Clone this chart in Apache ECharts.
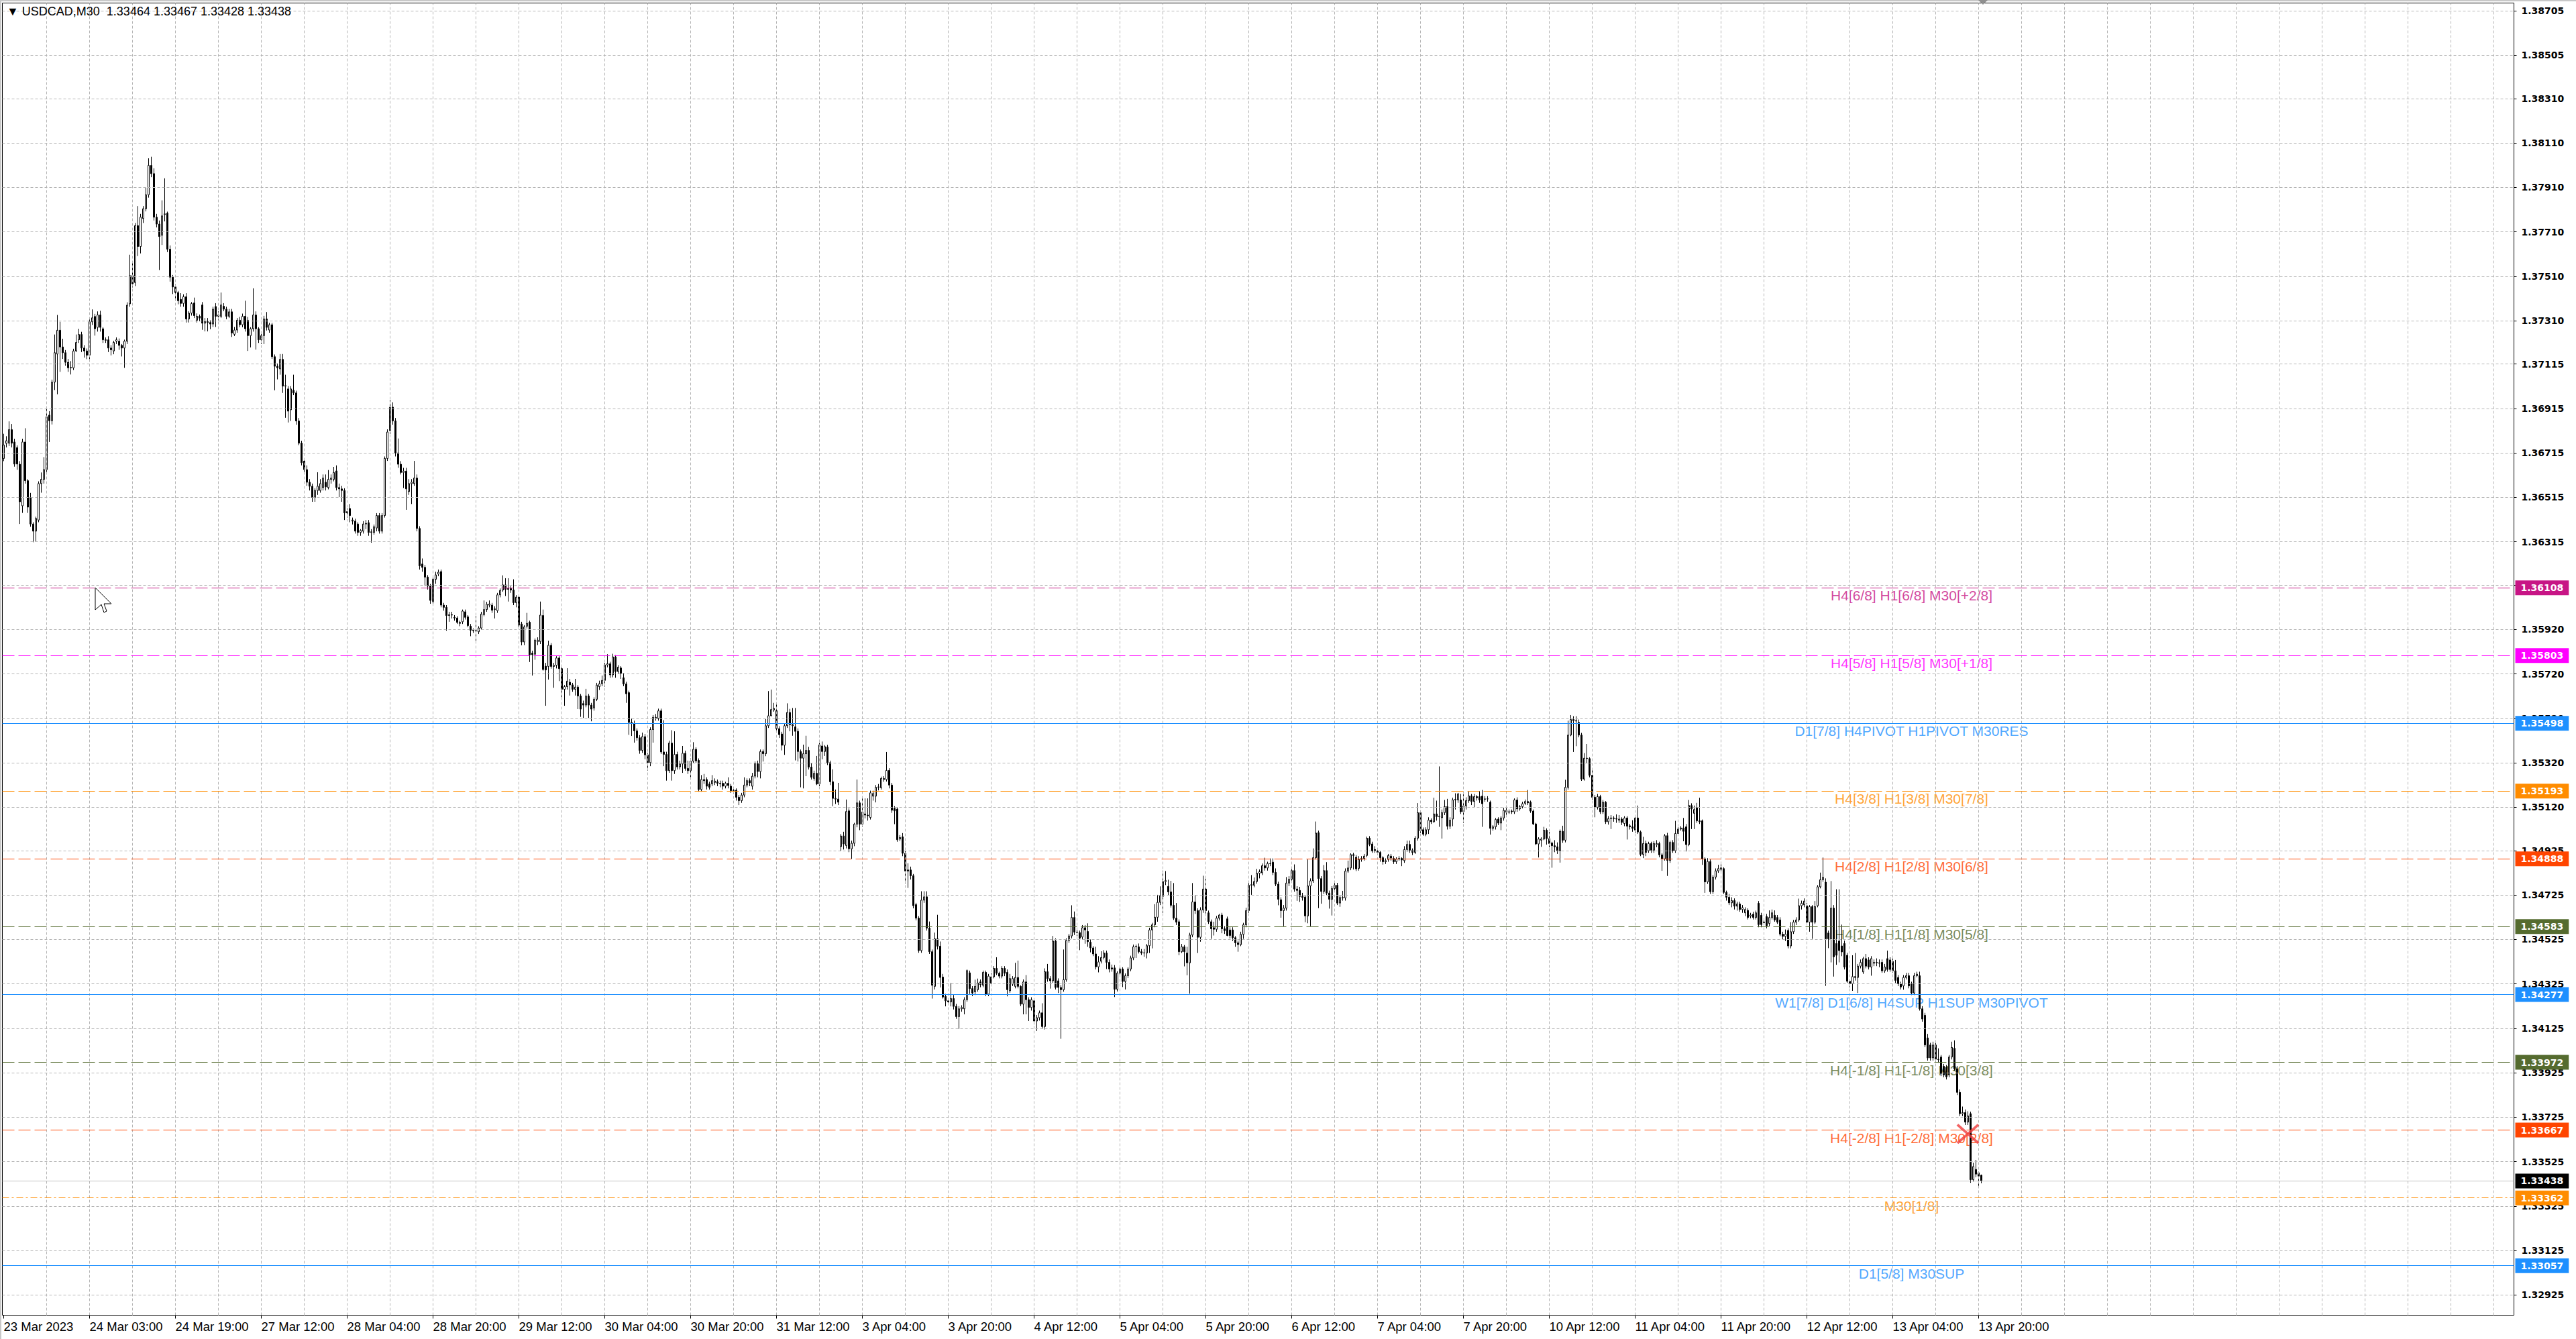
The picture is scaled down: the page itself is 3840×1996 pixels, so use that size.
<!DOCTYPE html>
<html><head><meta charset="utf-8">
<script src="https://cdn.jsdelivr.net/npm/echarts@6/dist/echarts.min.js"></script>
<style>html,body{margin:0;padding:0;background:#fff;}#chart{width:3840px;height:1996px;}</style>
</head><body><div id="chart"></div>
<script>
// ---------------- DATA ----------------
const symbolName = 'USDCAD,M30';
const timeLabels = ['23 Mar 2023','24 Mar 03:00','24 Mar 19:00','27 Mar 12:00','28 Mar 04:00','28 Mar 20:00','29 Mar 12:00','30 Mar 04:00','30 Mar 20:00','31 Mar 12:00','3 Apr 04:00','3 Apr 20:00','4 Apr 12:00','5 Apr 04:00','5 Apr 20:00','6 Apr 12:00','7 Apr 04:00','7 Apr 20:00','10 Apr 12:00','11 Apr 04:00','11 Apr 20:00','12 Apr 12:00','13 Apr 04:00','13 Apr 20:00'];
const priceTicks = [1.38705,1.38505,1.38310,1.38110,1.37910,1.37710,1.37510,1.37310,1.37115,1.36915,1.36715,1.36515,1.36315,1.36120,1.35920,1.35720,1.35520,1.35320,1.35120,1.34925,1.34725,1.34525,1.34325,1.34125,1.33925,1.33725,1.33525,1.33325,1.33125,1.32925];
const levelPrices = [1.36108,1.35803,1.35498,1.35193,1.34888,1.34583,1.34277,1.33972,1.33667,1.33362,1.33057];
const levelNames = ['H4[6/8] H1[6/8] M30[+2/8]','H4[5/8] H1[5/8] M30[+1/8]','D1[7/8] H4PIVOT H1PIVOT M30RES','H4[3/8] H1[3/8] M30[7/8]','H4[2/8] H1[2/8] M30[6/8]','H4[1/8] H1[1/8] M30[5/8]','W1[7/8] D1[6/8] H4SUP H1SUP M30PIVOT','H4[-1/8] H1[-1/8] M30[3/8]','H4[-2/8] H1[-2/8] M30[2/8]','M30[1/8]','D1[5/8] M30SUP'];
const closedOrder = [[732, 1.33650]];
// each bar: [open, close, low, high]
const bars = [
[1.36690,1.36751,1.36678,1.36801],[1.36758,1.36770,1.36740,1.36790],[1.36759,1.36820,1.36746,1.36857],[1.36820,1.36759,1.36740,1.36845],[1.36764,1.36665,1.36653,1.36779],
[1.36739,1.36665,1.36639,1.36749],[1.36664,1.36495,1.36395,1.36678],[1.36477,1.36764,1.36445,1.36779],[1.36764,1.36590,1.36577,1.36826],[1.36590,1.36471,1.36445,1.36597],
[1.36514,1.36395,1.36383,1.36535],[1.36395,1.36363,1.36313,1.36403],[1.36363,1.36420,1.36316,1.36428],[1.36413,1.36577,1.36403,1.36587],[1.36577,1.36596,1.36536,1.36627],
[1.36596,1.36640,1.36577,1.36696],[1.36640,1.36878,1.36628,1.36915],[1.36885,1.36860,1.36764,1.36903],[1.36860,1.37034,1.36843,1.37045],[1.37034,1.37166,1.36998,1.37248],
[1.37160,1.37267,1.36979,1.37336],[1.37267,1.37192,1.37080,1.37305],[1.37192,1.37166,1.37138,1.37229],[1.37166,1.37123,1.37108,1.37178],[1.37123,1.37098,1.37080,1.37138],
[1.37098,1.37100,1.37068,1.37128],[1.37098,1.37174,1.37088,1.37184],[1.37174,1.37212,1.37169,1.37248],[1.37224,1.37248,1.37210,1.37274],[1.37248,1.37187,1.37169,1.37260],
[1.37187,1.37174,1.37144,1.37200],[1.37174,1.37155,1.37137,1.37185],[1.37155,1.37305,1.37137,1.37321],[1.37305,1.37323,1.37291,1.37361],[1.37329,1.37274,1.37243,1.37341],
[1.37280,1.37336,1.37261,1.37352],[1.37336,1.37280,1.37261,1.37355],[1.37274,1.37224,1.37210,1.37281],[1.37224,1.37222,1.37210,1.37235],[1.37224,1.37187,1.37169,1.37240],
[1.37187,1.37179,1.37154,1.37200],[1.37174,1.37212,1.37159,1.37220],[1.37218,1.37224,1.37205,1.37235],[1.37218,1.37199,1.37179,1.37230],[1.37199,1.37187,1.37149,1.37205],
[1.37187,1.37218,1.37098,1.37225],[1.37218,1.37380,1.37205,1.37393],[1.37386,1.37513,1.37373,1.37607],[1.37513,1.37476,1.37460,1.37569],[1.37482,1.37738,1.37466,1.37750],
[1.37738,1.37644,1.37601,1.37826],[1.37644,1.37776,1.37613,1.37791],[1.37770,1.37814,1.37750,1.37826],[1.37814,1.37877,1.37802,1.37909],[1.37877,1.38009,1.37864,1.38041],
[1.38009,1.37972,1.37956,1.38048],[1.37972,1.37776,1.37761,1.37996],[1.37776,1.37745,1.37730,1.37791],[1.37745,1.37689,1.37538,1.37761],[1.37695,1.37782,1.37651,1.37852],
[1.37788,1.37791,1.37757,1.37951],[1.37794,1.37632,1.37619,1.37801],[1.37632,1.37506,1.37486,1.37649],[1.37506,1.37462,1.37430,1.37516],[1.37462,1.37437,1.37400,1.37475],
[1.37437,1.37400,1.37384,1.37444],[1.37406,1.37388,1.37373,1.37434],[1.37388,1.37418,1.37373,1.37429],[1.37418,1.37318,1.37302,1.37434],[1.37318,1.37344,1.37302,1.37353],
[1.37344,1.37387,1.37333,1.37394],[1.37390,1.37333,1.37322,1.37414],[1.37312,1.37330,1.37302,1.37343],[1.37330,1.37322,1.37307,1.37338],[1.37381,1.37299,1.37269,1.37394],
[1.37299,1.37306,1.37262,1.37322],[1.37306,1.37302,1.37262,1.37322],[1.37302,1.37295,1.37272,1.37312],[1.37295,1.37362,1.37282,1.37373],[1.37374,1.37330,1.37282,1.37389],
[1.37330,1.37336,1.37312,1.37352],[1.37330,1.37381,1.37322,1.37437],[1.37375,1.37362,1.37353,1.37389],[1.37362,1.37330,1.37317,1.37373],[1.37330,1.37350,1.37322,1.37363],
[1.37350,1.37255,1.37237,1.37363],[1.37249,1.37268,1.37241,1.37282],[1.37268,1.37312,1.37256,1.37322],[1.37312,1.37292,1.37281,1.37327],[1.37292,1.37330,1.37281,1.37342],
[1.37330,1.37274,1.37261,1.37400],[1.37312,1.37243,1.37174,1.37327],[1.37243,1.37274,1.37190,1.37281],[1.37274,1.37336,1.37261,1.37456],[1.37336,1.37274,1.37180,1.37352],
[1.37274,1.37224,1.37210,1.37281],[1.37224,1.37243,1.37205,1.37251],[1.37243,1.37318,1.37205,1.37332],[1.37318,1.37280,1.37266,1.37349],[1.37268,1.37292,1.37256,1.37301],
[1.37292,1.37148,1.37138,1.37301],[1.37148,1.37105,1.36997,1.37158],[1.37105,1.37098,1.37046,1.37118],[1.37093,1.37136,1.37067,1.37160],[1.37136,1.37016,1.36985,1.37160],
[1.37016,1.37018,1.36873,1.37067],[1.37003,1.36903,1.36852,1.37016],[1.36909,1.37003,1.36859,1.37016],[1.36997,1.36985,1.36975,1.37067],[1.36985,1.36859,1.36842,1.36995],
[1.36859,1.36759,1.36750,1.36872],[1.36759,1.36671,1.36659,1.36770],[1.36678,1.36640,1.36628,1.36689],[1.36640,1.36583,1.36567,1.36659],[1.36583,1.36565,1.36546,1.36597],
[1.36565,1.36515,1.36495,1.36577],[1.36515,1.36546,1.36495,1.36556],[1.36546,1.36565,1.36526,1.36628],[1.36546,1.36577,1.36536,1.36597],[1.36559,1.36602,1.36546,1.36618],
[1.36583,1.36562,1.36546,1.36618],[1.36559,1.36596,1.36551,1.36638],[1.36596,1.36602,1.36577,1.36618],[1.36596,1.36627,1.36587,1.36652],[1.36634,1.36559,1.36546,1.36659],
[1.36559,1.36553,1.36516,1.36577],[1.36553,1.36546,1.36495,1.36567],[1.36546,1.36445,1.36413,1.36556],[1.36445,1.36451,1.36424,1.36465],[1.36465,1.36433,1.36403,1.36485],
[1.36413,1.36408,1.36393,1.36424],[1.36408,1.36363,1.36352,1.36419],[1.36395,1.36357,1.36342,1.36403],[1.36357,1.36366,1.36342,1.36372],[1.36363,1.36395,1.36352,1.36408],
[1.36395,1.36398,1.36372,1.36413],[1.36401,1.36357,1.36342,1.36413],[1.36357,1.36360,1.36311,1.36372],[1.36357,1.36383,1.36347,1.36393],[1.36377,1.36433,1.36362,1.36444],
[1.36433,1.36363,1.36352,1.36444],[1.36363,1.36433,1.36352,1.36444],[1.36433,1.36690,1.36424,1.36699],[1.36690,1.36809,1.36679,1.36821],[1.36815,1.36921,1.36801,1.36953],
[1.36921,1.36859,1.36842,1.36943],[1.36859,1.36715,1.36699,1.36872],[1.36715,1.36664,1.36648,1.36780],[1.36664,1.36627,1.36618,1.36678],[1.36627,1.36633,1.36557,1.36648],
[1.36633,1.36553,1.36459,1.36648],[1.36541,1.36577,1.36526,1.36597],[1.36577,1.36583,1.36485,1.36597],[1.36577,1.36602,1.36567,1.36679],[1.36602,1.36375,1.36362,1.36618],
[1.36375,1.36207,1.36190,1.36385],[1.36215,1.36200,1.36180,1.36240],[1.36200,1.36156,1.36116,1.36210],[1.36156,1.36116,1.36100,1.36165],[1.36116,1.36051,1.36036,1.36125],
[1.36046,1.36146,1.36030,1.36160],[1.36146,1.36166,1.36126,1.36180],[1.36170,1.36178,1.36160,1.36190],[1.36181,1.36030,1.36020,1.36190],[1.36030,1.36020,1.36005,1.36040],
[1.36020,1.35983,1.35915,1.36030],[1.35983,1.35987,1.35955,1.36000],[1.35987,1.35985,1.35970,1.36000],[1.35975,1.35972,1.35960,1.35985],[1.35972,1.35952,1.35945,1.35980],
[1.35952,1.35948,1.35935,1.35960],[1.35955,1.36003,1.35945,1.36010],[1.36000,1.35975,1.35965,1.36010],[1.35977,1.35938,1.35930,1.35985],[1.35935,1.35917,1.35890,1.35945],
[1.35917,1.35915,1.35905,1.35925],[1.35915,1.35914,1.35869,1.35980],[1.35910,1.35927,1.35900,1.35935],[1.35927,1.35990,1.35920,1.36000],[1.35987,1.36010,1.35980,1.36051],
[1.36010,1.36034,1.36000,1.36045],[1.36030,1.36035,1.36020,1.36051],[1.36030,1.36007,1.35995,1.36040],[1.36010,1.36013,1.35970,1.36025],[1.36005,1.36076,1.35995,1.36085],
[1.36076,1.36096,1.36065,1.36105],[1.36098,1.36121,1.36090,1.36164],[1.36121,1.36101,1.36071,1.36151],[1.36101,1.36104,1.36046,1.36151],[1.36104,1.36098,1.36085,1.36115],
[1.36098,1.36041,1.36030,1.36146],[1.36041,1.36066,1.36020,1.36075],[1.36066,1.35940,1.35930,1.36075],[1.35945,1.35864,1.35849,1.35955],[1.35864,1.35932,1.35850,1.35940],
[1.35935,1.35948,1.35925,1.35995],[1.35953,1.35806,1.35774,1.35960],[1.35814,1.35807,1.35713,1.35825],[1.35809,1.35872,1.35784,1.35880],[1.35866,1.35872,1.35850,1.35885],
[1.35866,1.35985,1.35855,1.36046],[1.35983,1.35740,1.35735,1.36010],[1.35755,1.35738,1.35577,1.35770],[1.35754,1.35849,1.35695,1.35870],[1.35849,1.35754,1.35744,1.35859],
[1.35754,1.35759,1.35658,1.35770],[1.35759,1.35792,1.35745,1.35800],[1.35792,1.35744,1.35688,1.35800],[1.35744,1.35651,1.35615,1.35750],[1.35651,1.35663,1.35577,1.35670],
[1.35663,1.35688,1.35650,1.35746],[1.35683,1.35671,1.35623,1.35698],[1.35671,1.35651,1.35640,1.35680],[1.35651,1.35661,1.35623,1.35698],[1.35661,1.35621,1.35562,1.35670],
[1.35621,1.35562,1.35527,1.35630],[1.35587,1.35580,1.35522,1.35600],[1.35580,1.35621,1.35570,1.35653],[1.35621,1.35580,1.35522,1.35630],[1.35580,1.35562,1.35507,1.35590],
[1.35567,1.35606,1.35555,1.35615],[1.35606,1.35670,1.35598,1.35680],[1.35663,1.35676,1.35648,1.35690],[1.35676,1.35691,1.35665,1.35713],[1.35691,1.35761,1.35663,1.35770],
[1.35761,1.35766,1.35750,1.35809],[1.35766,1.35716,1.35703,1.35775],[1.35716,1.35797,1.35705,1.35811],[1.35797,1.35731,1.35703,1.35805],[1.35731,1.35751,1.35720,1.35760],
[1.35747,1.35723,1.35698,1.35755],[1.35703,1.35675,1.35665,1.35725],[1.35675,1.35631,1.35590,1.35685],[1.35636,1.35502,1.35446,1.35645],[1.35502,1.35497,1.35441,1.35520],
[1.35497,1.35464,1.35411,1.35510],[1.35464,1.35433,1.35420,1.35475],[1.35433,1.35376,1.35361,1.35445],[1.35376,1.35438,1.35365,1.35456],[1.35438,1.35356,1.35336,1.35450],
[1.35356,1.35321,1.35285,1.35365],[1.35321,1.35470,1.35305,1.35480],[1.35470,1.35525,1.35411,1.35535],[1.35522,1.35525,1.35510,1.35540],[1.35520,1.35554,1.35510,1.35564],
[1.35554,1.35369,1.35360,1.35564],[1.35369,1.35358,1.35305,1.35512],[1.35358,1.35285,1.35240,1.35370],[1.35285,1.35409,1.35275,1.35420],[1.35409,1.35285,1.35240,1.35467],
[1.35285,1.35358,1.35270,1.35462],[1.35358,1.35302,1.35290,1.35370],[1.35302,1.35315,1.35290,1.35330],[1.35315,1.35363,1.35275,1.35396],[1.35363,1.35295,1.35285,1.35375],
[1.35295,1.35285,1.35270,1.35330],[1.35285,1.35328,1.35255,1.35340],[1.35328,1.35381,1.35320,1.35413],[1.35381,1.35329,1.35320,1.35390],[1.35331,1.35200,1.35190,1.35340],
[1.35200,1.35245,1.35190,1.35265],[1.35245,1.35240,1.35225,1.35270],[1.35245,1.35215,1.35200,1.35255],[1.35225,1.35210,1.35200,1.35235],[1.35225,1.35240,1.35215,1.35265],
[1.35232,1.35238,1.35220,1.35250],[1.35235,1.35228,1.35215,1.35245],[1.35228,1.35226,1.35210,1.35240],[1.35228,1.35215,1.35200,1.35240],[1.35215,1.35228,1.35205,1.35235],
[1.35228,1.35218,1.35205,1.35255],[1.35215,1.35195,1.35185,1.35225],[1.35195,1.35197,1.35180,1.35210],[1.35197,1.35165,1.35150,1.35205],[1.35165,1.35150,1.35130,1.35175],
[1.35150,1.35175,1.35140,1.35185],[1.35175,1.35220,1.35165,1.35255],[1.35220,1.35240,1.35210,1.35250],[1.35240,1.35230,1.35215,1.35250],[1.35215,1.35260,1.35200,1.35275],
[1.35260,1.35316,1.35250,1.35326],[1.35316,1.35281,1.35255,1.35330],[1.35281,1.35371,1.35250,1.35380],[1.35371,1.35361,1.35326,1.35380],[1.35361,1.35487,1.35350,1.35517],
[1.35487,1.35532,1.35477,1.35643],[1.35532,1.35560,1.35530,1.35650],[1.35558,1.35565,1.35550,1.35590],[1.35555,1.35474,1.35457,1.35590],[1.35474,1.35447,1.35432,1.35485],
[1.35450,1.35399,1.35376,1.35460],[1.35399,1.35487,1.35356,1.35495],[1.35487,1.35547,1.35477,1.35588],[1.35547,1.35492,1.35462,1.35563],[1.35492,1.35487,1.35442,1.35567],
[1.35482,1.35462,1.35331,1.35567],[1.35462,1.35371,1.35326,1.35475],[1.35371,1.35341,1.35210,1.35380],[1.35341,1.35361,1.35205,1.35402],[1.35361,1.35376,1.35260,1.35442],
[1.35376,1.35301,1.35290,1.35392],[1.35301,1.35255,1.35245,1.35320],[1.35250,1.35273,1.35240,1.35285],[1.35273,1.35225,1.35220,1.35351],[1.35225,1.35401,1.35215,1.35410],
[1.35396,1.35371,1.35336,1.35416],[1.35371,1.35393,1.35351,1.35400],[1.35391,1.35321,1.35310,1.35401],[1.35321,1.35235,1.35220,1.35330],[1.35235,1.35160,1.35125,1.35291],
[1.35160,1.35157,1.35135,1.35200],[1.35157,1.35143,1.35130,1.35230],[1.34943,1.34991,1.34923,1.35000],[1.34991,1.34955,1.34930,1.35010],[1.34948,1.35101,1.34935,1.35155],
[1.35104,1.34933,1.34918,1.35115],[1.34933,1.34958,1.34888,1.34970],[1.34958,1.35044,1.34945,1.35050],[1.35044,1.35140,1.35030,1.35245],[1.35140,1.35044,1.35017,1.35150],
[1.35044,1.35099,1.35031,1.35162],[1.35090,1.35085,1.35070,1.35160],[1.35085,1.35082,1.35060,1.35160],[1.35074,1.35185,1.35065,1.35195],[1.35170,1.35182,1.35150,1.35195],
[1.35170,1.35210,1.35142,1.35220],[1.35210,1.35212,1.35196,1.35225],[1.35208,1.35250,1.35200,1.35258],[1.35245,1.35250,1.35235,1.35260],[1.35245,1.35286,1.35236,1.35369],
[1.35286,1.35220,1.35205,1.35296],[1.35220,1.35107,1.35095,1.35230],[1.35115,1.35104,1.35044,1.35125],[1.35112,1.34974,1.34965,1.35120],[1.34977,1.34984,1.34968,1.34995],
[1.34987,1.34913,1.34900,1.35004],[1.34913,1.34833,1.34777,1.34925],[1.34838,1.34833,1.34757,1.34868],[1.34838,1.34812,1.34795,1.34853],[1.34812,1.34677,1.34665,1.34820],
[1.34682,1.34621,1.34611,1.34690],[1.34621,1.34475,1.34465,1.34630],[1.34475,1.34702,1.34465,1.34742],[1.34702,1.34717,1.34690,1.34742],[1.34717,1.34576,1.34565,1.34742],
[1.34576,1.34470,1.34460,1.34606],[1.34470,1.34319,1.34259,1.34480],[1.34314,1.34528,1.34300,1.34556],[1.34528,1.34495,1.34480,1.34636],[1.34495,1.34354,1.34309,1.34516],
[1.34356,1.34266,1.34259,1.34370],[1.34269,1.34249,1.34224,1.34280],[1.34249,1.34244,1.34230,1.34260],[1.34244,1.34259,1.34224,1.34330],[1.34259,1.34224,1.34210,1.34275],
[1.34224,1.34178,1.34168,1.34235],[1.34178,1.34213,1.34123,1.34225],[1.34213,1.34219,1.34200,1.34229],[1.34213,1.34254,1.34188,1.34265],[1.34254,1.34385,1.34245,1.34390],
[1.34375,1.34304,1.34280,1.34385],[1.34304,1.34284,1.34270,1.34315],[1.34289,1.34314,1.34275,1.34344],[1.34299,1.34329,1.34290,1.34349],[1.34334,1.34322,1.34310,1.34345],
[1.34319,1.34377,1.34310,1.34385],[1.34377,1.34279,1.34270,1.34385],[1.34279,1.34360,1.34270,1.34370],[1.34329,1.34357,1.34320,1.34373],[1.34357,1.34395,1.34350,1.34405],
[1.34395,1.34373,1.34365,1.34445],[1.34373,1.34360,1.34350,1.34380],[1.34360,1.34395,1.34350,1.34405],[1.34395,1.34373,1.34360,1.34405],[1.34377,1.34299,1.34269,1.34390],
[1.34294,1.34349,1.34285,1.34370],[1.34324,1.34349,1.34315,1.34360],[1.34314,1.34354,1.34305,1.34420],[1.34354,1.34314,1.34305,1.34430],[1.34314,1.34234,1.34225,1.34319],
[1.34234,1.34334,1.34188,1.34345],[1.34334,1.34254,1.34188,1.34365],[1.34254,1.34219,1.34158,1.34265],[1.34219,1.34254,1.34205,1.34265],[1.34249,1.34158,1.34143,1.34260],
[1.34158,1.34173,1.34113,1.34185],[1.34173,1.34195,1.34160,1.34205],[1.34195,1.34133,1.34123,1.34238],[1.34133,1.34380,1.34120,1.34395],[1.34380,1.34349,1.34335,1.34415],
[1.34349,1.34339,1.34304,1.34360],[1.34339,1.34518,1.34330,1.34541],[1.34518,1.34309,1.34300,1.34530],[1.34339,1.34309,1.34284,1.34350],[1.34309,1.34299,1.34078,1.34320],
[1.34299,1.34344,1.34290,1.34480],[1.34344,1.34521,1.34335,1.34530],[1.34521,1.34541,1.34510,1.34550],[1.34541,1.34624,1.34530,1.34679],[1.34624,1.34558,1.34545,1.34651],
[1.34558,1.34556,1.34540,1.34570],[1.34556,1.34531,1.34477,1.34565],[1.34536,1.34578,1.34525,1.34590],[1.34578,1.34568,1.34506,1.34590],[1.34561,1.34515,1.34492,1.34598],
[1.34513,1.34487,1.34467,1.34525],[1.34487,1.34460,1.34450,1.34495],[1.34460,1.34402,1.34390,1.34492],[1.34402,1.34424,1.34377,1.34450],[1.34427,1.34444,1.34417,1.34472],
[1.34444,1.34464,1.34435,1.34477],[1.34464,1.34422,1.34392,1.34475],[1.34422,1.34392,1.34377,1.34435],[1.34397,1.34392,1.34380,1.34412],[1.34397,1.34301,1.34266,1.34410],
[1.34301,1.34374,1.34291,1.34382],[1.34374,1.34392,1.34360,1.34400],[1.34392,1.34336,1.34311,1.34400],[1.34336,1.34362,1.34300,1.34372],[1.34362,1.34392,1.34352,1.34400],
[1.34392,1.34442,1.34382,1.34452],[1.34442,1.34492,1.34432,1.34502],[1.34492,1.34494,1.34442,1.34502],[1.34492,1.34470,1.34462,1.34507],[1.34470,1.34464,1.34455,1.34482],
[1.34464,1.34465,1.34447,1.34482],[1.34464,1.34497,1.34440,1.34505],[1.34497,1.34568,1.34464,1.34578],[1.34568,1.34591,1.34485,1.34600],[1.34591,1.34625,1.34580,1.34684],
[1.34625,1.34692,1.34605,1.34726],[1.34692,1.34722,1.34680,1.34764],[1.34719,1.34786,1.34645,1.34835],[1.34786,1.34790,1.34770,1.34833],[1.34764,1.34739,1.34725,1.34794],
[1.34739,1.34679,1.34669,1.34789],[1.34679,1.34621,1.34613,1.34779],[1.34621,1.34603,1.34590,1.34689],[1.34605,1.34470,1.34454,1.34615],[1.34470,1.34492,1.34464,1.34505],
[1.34492,1.34470,1.34404,1.34500],[1.34464,1.34420,1.34364,1.34492],[1.34420,1.34545,1.34281,1.34555],[1.34545,1.34694,1.34535,1.34779],[1.34694,1.34655,1.34640,1.34724],
[1.34655,1.34535,1.34464,1.34665],[1.34535,1.34658,1.34515,1.34670],[1.34658,1.34752,1.34645,1.34812],[1.34752,1.34655,1.34640,1.34799],[1.34645,1.34605,1.34595,1.34655],
[1.34605,1.34573,1.34528,1.34615],[1.34578,1.34571,1.34543,1.34605],[1.34571,1.34621,1.34560,1.34631],[1.34621,1.34635,1.34610,1.34640],[1.34635,1.34573,1.34553,1.34645],
[1.34573,1.34565,1.34550,1.34585],[1.34618,1.34543,1.34540,1.34628],[1.34568,1.34543,1.34530,1.34580],[1.34568,1.34533,1.34518,1.34580],[1.34533,1.34510,1.34492,1.34540],
[1.34510,1.34502,1.34470,1.34520],[1.34502,1.34548,1.34495,1.34560],[1.34548,1.34591,1.34528,1.34600],[1.34591,1.34655,1.34580,1.34668],[1.34655,1.34769,1.34645,1.34789],
[1.34769,1.34772,1.34726,1.34815],[1.34769,1.34786,1.34760,1.34804],[1.34786,1.34823,1.34776,1.34843],[1.34823,1.34830,1.34800,1.34840],[1.34825,1.34857,1.34815,1.34867],
[1.34857,1.34847,1.34835,1.34893],[1.34847,1.34867,1.34835,1.34875],[1.34867,1.34866,1.34855,1.34890],[1.34873,1.34827,1.34815,1.34890],[1.34827,1.34774,1.34765,1.34845],
[1.34774,1.34706,1.34679,1.34785],[1.34704,1.34655,1.34623,1.34715],[1.34655,1.34666,1.34585,1.34680],[1.34666,1.34779,1.34655,1.34806],[1.34779,1.34796,1.34765,1.34810],
[1.34796,1.34835,1.34785,1.34850],[1.34835,1.34752,1.34740,1.34863],[1.34752,1.34746,1.34699,1.34765],[1.34746,1.34719,1.34694,1.34762],[1.34719,1.34714,1.34700,1.34735],
[1.34716,1.34631,1.34603,1.34725],[1.34631,1.34766,1.34598,1.34885],[1.34766,1.34789,1.34585,1.34800],[1.34789,1.34893,1.34780,1.34935],[1.34893,1.35004,1.34885,1.35056],
[1.35006,1.34799,1.34666,1.35015],[1.34799,1.34741,1.34686,1.34810],[1.34741,1.34835,1.34730,1.34860],[1.34835,1.34734,1.34725,1.34873],[1.34734,1.34706,1.34664,1.34745],
[1.34706,1.34754,1.34633,1.34765],[1.34754,1.34769,1.34745,1.34780],[1.34769,1.34689,1.34680,1.34780],[1.34689,1.34714,1.34672,1.34725],[1.34714,1.34712,1.34700,1.34744],
[1.34712,1.34833,1.34700,1.34845],[1.34833,1.34847,1.34825,1.34880],[1.34847,1.34907,1.34837,1.34913],[1.34907,1.34903,1.34840,1.34915],[1.34895,1.34843,1.34833,1.34905],
[1.34845,1.34885,1.34835,1.34900],[1.34885,1.34890,1.34875,1.34900],[1.34890,1.34900,1.34880,1.34910],[1.34903,1.34981,1.34895,1.34988],[1.34981,1.34953,1.34945,1.34990],
[1.34955,1.34923,1.34915,1.34965],[1.34930,1.34923,1.34915,1.34945],[1.34923,1.34917,1.34905,1.34930],[1.34917,1.34893,1.34875,1.34925],[1.34893,1.34875,1.34862,1.34900],
[1.34875,1.34880,1.34865,1.34890],[1.34885,1.34903,1.34875,1.34910],[1.34900,1.34892,1.34880,1.34910],[1.34890,1.34875,1.34865,1.34900],[1.34875,1.34887,1.34865,1.34895],
[1.34887,1.34890,1.34880,1.34900],[1.34890,1.34883,1.34855,1.34895],[1.34880,1.34930,1.34870,1.34945],[1.34930,1.34953,1.34920,1.34970],[1.34953,1.34927,1.34915,1.34970],
[1.34927,1.34917,1.34905,1.34935],[1.34917,1.34981,1.34910,1.34990],[1.34981,1.35096,1.34970,1.35139],[1.35096,1.35014,1.35005,1.35105],[1.35019,1.34999,1.34992,1.35029],
[1.34999,1.35019,1.34990,1.35030],[1.35019,1.35062,1.35000,1.35075],[1.35062,1.35055,1.35045,1.35070],[1.35055,1.35090,1.35050,1.35163],[1.35090,1.35078,1.35060,1.35150],
[1.35078,1.35080,1.35032,1.35304],[1.35073,1.35096,1.34979,1.35110],[1.35096,1.35123,1.35085,1.35153],[1.35123,1.35035,1.35020,1.35158],[1.35035,1.35062,1.35022,1.35075],
[1.35067,1.35153,1.35035,1.35163],[1.35153,1.35156,1.35110,1.35183],[1.35153,1.35180,1.35140,1.35185],[1.35153,1.35100,1.35090,1.35180],[1.35100,1.35126,1.35050,1.35178],
[1.35126,1.35150,1.35110,1.35165],[1.35150,1.35171,1.35140,1.35193],[1.35171,1.35146,1.35130,1.35180],[1.35146,1.35168,1.35118,1.35180],[1.35168,1.35163,1.35150,1.35175],
[1.35168,1.35153,1.35140,1.35193],[1.35170,1.35136,1.35032,1.35198],[1.35156,1.35158,1.35145,1.35170],[1.35158,1.35158,1.35145,1.35170],[1.35143,1.35025,1.34997,1.35150],
[1.35025,1.35032,1.35015,1.35040],[1.35032,1.35065,1.35020,1.35072],[1.35067,1.35049,1.35040,1.35075],[1.35049,1.35072,1.35017,1.35080],[1.35072,1.35106,1.35060,1.35118],
[1.35106,1.35098,1.35085,1.35118],[1.35098,1.35100,1.35090,1.35110],[1.35103,1.35100,1.35090,1.35110],[1.35100,1.35153,1.35090,1.35160],[1.35153,1.35113,1.35100,1.35165],
[1.35113,1.35123,1.35105,1.35130],[1.35123,1.35136,1.35115,1.35145],[1.35138,1.35146,1.35130,1.35155],[1.35146,1.35140,1.35130,1.35198],[1.35143,1.35103,1.35095,1.35150],
[1.35103,1.35045,1.35040,1.35110],[1.35045,1.34955,1.34950,1.35050],[1.34955,1.34977,1.34894,1.34985],[1.34972,1.34977,1.34942,1.34985],[1.34977,1.35017,1.34972,1.35032],
[1.35017,1.34979,1.34952,1.35025],[1.34979,1.34957,1.34940,1.35009],[1.34959,1.34947,1.34848,1.34965],[1.34947,1.34942,1.34918,1.34972],[1.34942,1.34925,1.34910,1.34962],
[1.34925,1.35012,1.34871,1.35020],[1.35012,1.34972,1.34960,1.35037],[1.34972,1.35210,1.34962,1.35244],[1.35210,1.35445,1.35200,1.35510],[1.35445,1.35515,1.35440,1.35535],
[1.35515,1.35510,1.35369,1.35530],[1.35510,1.35508,1.35395,1.35530],[1.35502,1.35445,1.35435,1.35515],[1.35445,1.35247,1.35239,1.35455],[1.35247,1.35341,1.35240,1.35364],
[1.35341,1.35339,1.35320,1.35405],[1.35339,1.35264,1.35255,1.35345],[1.35264,1.35165,1.35155,1.35287],[1.35165,1.35120,1.35075,1.35175],[1.35120,1.35168,1.35110,1.35180],
[1.35168,1.35100,1.35090,1.35176],[1.35100,1.35143,1.35090,1.35153],[1.35143,1.35055,1.35045,1.35148],[1.35055,1.35069,1.35042,1.35080],[1.35069,1.35072,1.35022,1.35085],
[1.35072,1.35069,1.35055,1.35080],[1.35069,1.35067,1.35050,1.35088],[1.35062,1.35067,1.35050,1.35085],[1.35067,1.35052,1.35040,1.35075],[1.35047,1.35072,1.35035,1.35080],
[1.35072,1.35035,1.34975,1.35080],[1.35037,1.35032,1.35020,1.35045],[1.35032,1.35025,1.35010,1.35062],[1.35017,1.35072,1.35005,1.35082],[1.35072,1.35009,1.35000,1.35128],
[1.35009,1.34908,1.34900,1.35015],[1.34908,1.34957,1.34891,1.34987],[1.34957,1.34917,1.34900,1.34970],[1.34925,1.34957,1.34915,1.34965],[1.34957,1.34927,1.34915,1.34965],
[1.34927,1.34957,1.34915,1.34967],[1.34952,1.34957,1.34940,1.34972],[1.34957,1.34906,1.34895,1.34965],[1.34906,1.34888,1.34834,1.34915],[1.34888,1.34992,1.34880,1.35000],
[1.34992,1.34881,1.34811,1.35005],[1.34881,1.34962,1.34870,1.34970],[1.34962,1.34925,1.34915,1.34972],[1.34925,1.35002,1.34915,1.35059],[1.35002,1.35022,1.34995,1.35030],
[1.35022,1.35027,1.35015,1.35035],[1.35027,1.35012,1.34967,1.35072],[1.35032,1.34952,1.34921,1.35045],[1.34952,1.35128,1.34945,1.35153],[1.35128,1.35113,1.35022,1.35138],
[1.35093,1.35110,1.35022,1.35128],[1.35118,1.35059,1.35050,1.35140],[1.35059,1.35055,1.35045,1.35163],[1.35059,1.34888,1.34861,1.35065],[1.34888,1.34784,1.34735,1.34895],
[1.34784,1.34876,1.34775,1.34891],[1.34876,1.34740,1.34730,1.34885],[1.34740,1.34806,1.34730,1.34815],[1.34806,1.34834,1.34795,1.34845],[1.34834,1.34844,1.34825,1.34861],
[1.34848,1.34841,1.34830,1.34874],[1.34844,1.34737,1.34730,1.34850],[1.34737,1.34715,1.34700,1.34745],[1.34715,1.34690,1.34680,1.34730],[1.34690,1.34700,1.34670,1.34715],
[1.34700,1.34675,1.34660,1.34710],[1.34675,1.34685,1.34655,1.34695],[1.34685,1.34660,1.34650,1.34695],[1.34660,1.34668,1.34645,1.34680],[1.34645,1.34660,1.34630,1.34670],
[1.34656,1.34624,1.34615,1.34665],[1.34630,1.34635,1.34620,1.34645],[1.34639,1.34624,1.34615,1.34650],[1.34624,1.34645,1.34615,1.34655],[1.34688,1.34592,1.34580,1.34698],
[1.34634,1.34592,1.34580,1.34645],[1.34603,1.34600,1.34590,1.34615],[1.34628,1.34587,1.34575,1.34640],[1.34597,1.34624,1.34585,1.34656],[1.34624,1.34645,1.34615,1.34660],
[1.34634,1.34613,1.34605,1.34656],[1.34624,1.34603,1.34595,1.34635],[1.34613,1.34549,1.34540,1.34625],[1.34549,1.34539,1.34525,1.34560],[1.34539,1.34549,1.34518,1.34570],
[1.34566,1.34496,1.34485,1.34575],[1.34496,1.34560,1.34485,1.34603],[1.34560,1.34603,1.34550,1.34613],[1.34603,1.34613,1.34590,1.34625],[1.34613,1.34677,1.34605,1.34709],
[1.34677,1.34688,1.34660,1.34700],[1.34681,1.34698,1.34670,1.34710],[1.34677,1.34603,1.34590,1.34690],[1.34603,1.34673,1.34560,1.34680],[1.34673,1.34603,1.34528,1.34680],
[1.34603,1.34673,1.34595,1.34698],[1.34677,1.34762,1.34670,1.34770],[1.34762,1.34794,1.34755,1.34826],[1.34794,1.34805,1.34785,1.34894],[1.34783,1.34528,1.34316,1.34800],
[1.34554,1.34528,1.34486,1.34565],[1.34528,1.34666,1.34422,1.34788],[1.34666,1.34447,1.34358,1.34680],[1.34507,1.34454,1.34411,1.34751],[1.34518,1.34475,1.34422,1.34751],
[1.34496,1.34469,1.34450,1.34592],[1.34507,1.34401,1.34390,1.34520],[1.34454,1.34337,1.34330,1.34465],[1.34337,1.34326,1.34310,1.34345],[1.34326,1.34358,1.34294,1.34454],
[1.34358,1.34354,1.34340,1.34464],[1.34354,1.34405,1.34284,1.34415],[1.34405,1.34422,1.34395,1.34435],[1.34379,1.34439,1.34370,1.34447],[1.34439,1.34405,1.34395,1.34460],
[1.34433,1.34401,1.34390,1.34445],[1.34401,1.34439,1.34362,1.34450],[1.34418,1.34422,1.34405,1.34435],[1.34422,1.34420,1.34405,1.34440],[1.34420,1.34418,1.34400,1.34435],
[1.34422,1.34384,1.34375,1.34435],[1.34384,1.34401,1.34375,1.34415],[1.34439,1.34390,1.34380,1.34475],[1.34433,1.34390,1.34380,1.34445],[1.34426,1.34384,1.34375,1.34440],
[1.34384,1.34341,1.34330,1.34433],[1.34354,1.34326,1.34315,1.34365],[1.34326,1.34311,1.34300,1.34335],[1.34316,1.34354,1.34299,1.34365],[1.34354,1.34362,1.34345,1.34375],
[1.34362,1.34316,1.34305,1.34375],[1.34326,1.34284,1.34275,1.34335],[1.34284,1.34362,1.34275,1.34375],[1.34362,1.34369,1.34355,1.34380],[1.34362,1.34213,1.34205,1.34380],
[1.34213,1.34167,1.34155,1.34225],[1.34184,1.34050,1.34040,1.34195],[1.34082,1.33992,1.33980,1.34100],[1.34050,1.33992,1.33980,1.34060],[1.33992,1.34050,1.33980,1.34065],
[1.34050,1.33986,1.33975,1.34060],[1.33986,1.33984,1.33970,1.34035],[1.33996,1.33922,1.33910,1.34005],[1.33954,1.33916,1.33905,1.33965],[1.33950,1.33907,1.33895,1.33960],
[1.33916,1.33996,1.33905,1.34005],[1.33996,1.34039,1.33985,1.34065],[1.34035,1.33943,1.33935,1.34071],[1.33943,1.33837,1.33825,1.33955],[1.33837,1.33741,1.33730,1.33850],
[1.33741,1.33746,1.33730,1.33773],[1.33746,1.33703,1.33690,1.33760],[1.33703,1.33731,1.33690,1.33752],[1.33741,1.33444,1.33430,1.33750],[1.33444,1.33503,1.33435,1.33520],
[1.33490,1.33469,1.33455,1.33533],[1.33475,1.33460,1.33412,1.33480],[1.33464,1.33438,1.33428,1.33467]
];

// ---------------- STYLE / LAYOUT ----------------
const levelStyle = [
  {color:'#C71585', type:[18,6]}, {color:'#FF00FF', type:[18,6]}, {color:'#1E90FF', type:'solid'},
  {color:'#FF8C00', type:[18,6]}, {color:'#FF4500', type:[18,6]}, {color:'#556B2F', type:[18,6]},
  {color:'#1E90FF', type:'solid'}, {color:'#556B2F', type:[18,6]}, {color:'#FF4500', type:[18,6]},
  {color:'#FF8C00', type:[10,4,3,4]}, {color:'#1E90FF', type:'solid'}
];
const SLOTS = 936;            // bar slots including right shift area
const LABEL_SLOT = 711;       // slot where level captions are centred
const BARS_PER_LABEL = 32;
const BARS_PER_GRID = 16;

const categories = Array.from({length: SLOTS}, (_, i) => String(i));
const candleData = bars.map(b => [b[0], b[1], Math.min(b[2], b[0], b[1]), Math.max(b[3], b[0], b[1])]);
const last = bars[bars.length - 1];
const fmt = v => Number(v).toFixed(5);
const headerText = '\u25BC ' + symbolName + '  ' + [last[0], last[3], last[2], last[1]].map(fmt).join(' ');

const vGrid = [];
for (let i = BARS_PER_GRID; i < SLOTS; i += BARS_PER_GRID) vGrid.push({xAxis: i});
const hGrid = priceTicks.map(v => ({yAxis: v}));

const boxLabel = (bg, v) => ({
  show: true, position: 'end', distance: 2, color: '#ffffff', backgroundColor: bg,
  padding: [4, 8, 4, 8], fontFamily: 'DejaVu Sans', fontSize: 14, fontWeight: 'bold',
  formatter: () => fmt(v)
});
const levelLines = levelPrices.map((p, k) => ({
  yAxis: p, lineStyle: {color: levelStyle[k].color, type: levelStyle[k].type, width: 1},
  label: boxLabel(levelStyle[k].color, p)
}));
levelLines.push({yAxis: last[1], lineStyle: {color: '#c0c0c0', type: 'solid', width: 1}, label: boxLabel('#000000', last[1])});

const isLabelIdx = i => i % BARS_PER_LABEL === 0 && (i / BARS_PER_LABEL) < timeLabels.length;

const chart = echarts.init(document.getElementById('chart'), null, {renderer: 'svg'});
chart.setOption({
  animation: false,
  backgroundColor: '#ffffff',
  title: {
    text: headerText, left: 10, top: 8, padding: 0,
    textStyle: {fontFamily: 'Liberation Sans', fontSize: 18, fontWeight: 'normal', color: '#000'}
  },
  grid: {left: 3.5, right: 92.5, top: 4.5, bottom: 35.5, show: true, borderColor: '#000', borderWidth: 1,
         backgroundColor: '#fff', containLabel: false, outerBoundsMode: 'none'},
  xAxis: {
    type: 'category', data: categories, boundaryGap: true,
    axisLine: {show: false},
    axisTick: {show: true, alignWithLabel: true, length: 5, interval: (i) => isLabelIdx(i), lineStyle: {color: '#000'}},
    axisLabel: {show: true, interval: (i) => isLabelIdx(i), formatter: (v, i) => timeLabels[i / BARS_PER_LABEL] || '',
                align: 'left', margin: 7, fontFamily: 'Liberation Sans', fontSize: 18.5, color: '#000'},
    splitLine: {show: false}
  },
  yAxis: {
    type: 'value', position: 'right', min: 1.32834, max: 1.38740, scale: true,
    axisLine: {show: false}, splitLine: {show: false},
    axisTick: {show: true, customValues: priceTicks, length: 4, lineStyle: {color: '#000'}},
    axisLabel: {show: true, customValues: priceTicks, formatter: v => fmt(v), margin: 11,
                fontFamily: 'DejaVu Sans', fontSize: 14, fontWeight: 'bold', color: '#000'}
  },
  graphic: [
    {type: 'rect', shape: {x: 0, y: 0, width: 3840, height: 2}, style: {fill: '#c8c8c8'}, z: 100},
    {type: 'rect', shape: {x: 0, y: 0, width: 2, height: 1996}, style: {fill: '#c8c8c8'}, z: 100},
    {type: 'polygon', shape: {points: [[2949, 0], [2963, 0], [2956, 7]]}, style: {fill: '#909090'}, z: 100},
    {type: 'polygon', shape: {points: [[142, 876], [142, 909], [151, 901], [155, 913], [159, 911], [155, 900], [166, 900]]},
     style: {fill: '#ffffff', stroke: '#000000', lineWidth: 1}, z: 100}
  ],
  series: [
    { // grid
      type: 'line', data: [], z: 1, silent: true,
      markLine: {silent: true, symbol: ['none', 'none'], animation: false, precision: 5,
        label: {show: false},
        lineStyle: {color: '#b4b4b4', type: [4, 3], width: 1},
        data: hGrid.concat(vGrid)}
    },
    { // level lines with boxed price labels
      type: 'line', data: [], z: 2, silent: true,
      markLine: {silent: true, symbol: ['none', 'none'], animation: false, precision: 5, data: levelLines}
    },
    { // level captions
      type: 'scatter', z: 2, silent: true, symbol: 'circle', symbolSize: 0,
      data: levelPrices.map((p, k) => ({value: [LABEL_SLOT, p], label: {color: levelStyle[k].color}})),
      label: {show: true, position: 'bottom', distance: 1, fontFamily: 'Liberation Sans', fontSize: 21,
              formatter: p => levelNames[p.dataIndex]}
    },
    { // candles
      type: 'candlestick', z: 3, large: false, barWidth: 2, clip: true,
      data: candleData,
      itemStyle: {color: '#ffffff', color0: '#000000', borderColor: '#000000', borderColor0: '#000000',
                  borderColorDoji: '#000000', borderWidth: 1}
    },
    { // closed order mark
      type: 'scatter', z: 5, silent: true,
      symbol: 'path://M2,0 L12,10 L22,0 L24,2 L14,12 L24,22 L22,24 L12,14 L2,24 L0,22 L10,12 L0,2 Z',
      symbolSize: [34, 30], itemStyle: {color: '#f03c3c'},
      data: closedOrder
    }
  ]
});
</script>
</body></html>
